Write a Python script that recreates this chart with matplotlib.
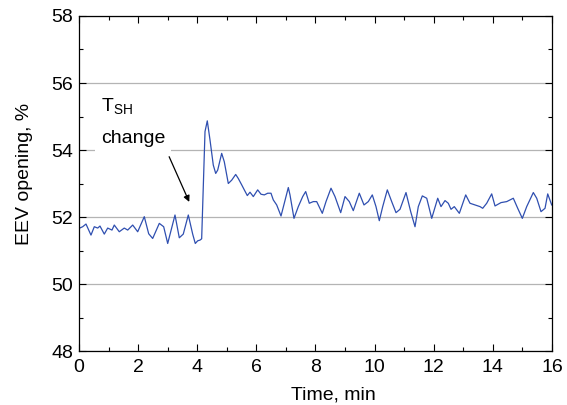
import matplotlib
matplotlib.use("Agg")
import matplotlib.pyplot as plt
from matplotlib.ticker import MultipleLocator

plt.rcParams['font.family'] = ['Liberation Sans', 'DejaVu Sans']
plt.rcParams['mathtext.fontset'] = 'custom'
plt.rcParams['mathtext.rm'] = 'Liberation Sans'
plt.rcParams['mathtext.it'] = 'Liberation Sans'

# EEV opening (time in min, opening in %)
time_min = [
    0.000, 0.125, 0.237, 0.406, 0.518, 0.633, 0.710, 0.856, 0.971, 1.116,
    1.194, 1.363, 1.532, 1.648, 1.817, 1.986, 2.209, 2.358, 2.493, 2.717,
    2.865, 3.001, 3.248, 3.393, 3.528, 3.698, 3.846, 3.934, 4.016, 4.093,
    4.150, 4.263, 4.340, 4.432, 4.543, 4.625, 4.692, 4.827, 4.915, 5.051,
    5.166, 5.301, 5.389, 5.504, 5.592, 5.694, 5.785, 5.897, 6.045, 6.157,
    6.269, 6.384, 6.495, 6.573, 6.688, 6.834, 6.945, 7.081, 7.138, 7.273,
    7.419, 7.568, 7.669, 7.791, 7.926, 8.041, 8.231, 8.356, 8.525, 8.660,
    8.853, 8.999, 9.144, 9.279, 9.482, 9.641, 9.787, 9.922, 10.047, 10.159,
    10.274, 10.430, 10.578, 10.724, 10.859, 11.062, 11.221, 11.367, 11.478, 11.614,
    11.763, 11.932, 12.135, 12.246, 12.382, 12.493, 12.585, 12.696, 12.866, 13.082,
    13.227, 13.397, 13.566, 13.657, 13.792, 13.961, 14.073, 14.276, 14.469, 14.692,
    14.841, 14.997, 15.145, 15.369, 15.484, 15.629, 15.765, 15.856, 15.991,
]
eev_opening = [
    51.66, 51.71, 51.79, 51.46, 51.71, 51.67, 51.73, 51.49, 51.67, 51.61,
    51.76, 51.56, 51.67, 51.61, 51.76, 51.56, 52.01, 51.50, 51.36, 51.81,
    51.71, 51.21, 52.06, 51.38, 51.49, 52.06, 51.49, 51.21, 51.29, 51.31,
    51.35, 54.55, 54.87, 54.30, 53.55, 53.30, 53.40, 53.90, 53.65, 53.00,
    53.10, 53.27, 53.15, 52.96, 52.81, 52.64, 52.74, 52.61, 52.81, 52.68,
    52.66, 52.71, 52.71, 52.51, 52.36, 52.03, 52.41, 52.88, 52.66, 51.96,
    52.31, 52.61, 52.76, 52.41, 52.46, 52.46, 52.11, 52.46, 52.86, 52.61,
    52.13, 52.61, 52.46, 52.19, 52.71, 52.36, 52.46, 52.66, 52.31, 51.89,
    52.31, 52.81, 52.46, 52.13, 52.23, 52.73, 52.16, 51.71, 52.31, 52.63,
    52.56, 51.96, 52.56, 52.31, 52.49, 52.41, 52.23, 52.31, 52.11, 52.66,
    52.41, 52.36, 52.31, 52.26, 52.41, 52.69, 52.33, 52.43, 52.46, 52.56,
    52.26, 51.96, 52.31, 52.73, 52.56, 52.16, 52.26, 52.69, 52.36,
]

fig = plt.figure(figsize=(5.67, 4.05), dpi=100)
ax = fig.add_axes([0.1393, 0.1333, 0.8342, 0.8272])

ax.plot(time_min, eev_opening, color='#2f4fb0', lw=0.9)

ax.set_xlim(0, 16)
ax.set_ylim(48, 58)
ax.xaxis.set_major_locator(MultipleLocator(2))
ax.xaxis.set_minor_locator(MultipleLocator(1))
ax.yaxis.set_major_locator(MultipleLocator(2))
ax.yaxis.set_minor_locator(MultipleLocator(1))
ax.tick_params(which='both', direction='in', top=True, right=True, labelsize=14)
ax.tick_params(which='major', length=5, width=0.8)
ax.tick_params(which='minor', length=3, width=0.8)
ax.tick_params(axis='x', pad=6)
ax.tick_params(axis='y', pad=4)
ax.grid(axis='y', which='major', color='#b4b4b4', lw=0.9)
ax.set_axisbelow(True)
for s in ax.spines.values():
    s.set_linewidth(0.9)

# axis titles placed where the reference has them
fig.text(333.7 / 567, 1 - 399 / 405, 'Time, min', fontsize=14,
         ha='center', va='baseline')
fig.text(24.5 / 567, 1 - 173.5 / 405, 'EEV opening, %', fontsize=14,
         ha='center', va='center', rotation=90)

ax.text(0.74, 55.16, r'T$_{\mathregular{SH}}$', fontsize=14, ha='left', va='baseline')
ax.text(0.74, 54.2, 'change', fontsize=14, ha='left', va='baseline',
        bbox=dict(facecolor='white', edgecolor='none', pad=4))
ax.annotate('', xy=(3.73, 52.45), xytext=(3.05, 53.8),
            arrowprops=dict(arrowstyle='-|>', color='black', lw=0.9,
                            mutation_scale=9, shrinkA=0, shrinkB=0))

fig.savefig('out.png', dpi=100)
